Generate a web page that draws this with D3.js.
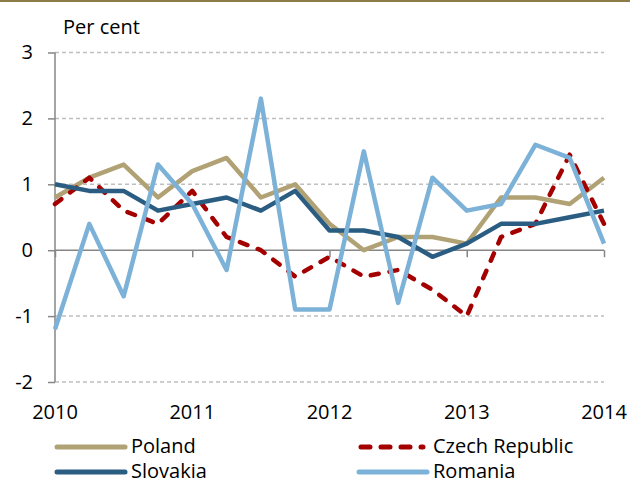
<!DOCTYPE html>
<html>
<head>
<meta charset="utf-8">
<script src="https://cdn.jsdelivr.net/npm/d3@7"></script>
<style>
  html, body { margin: 0; padding: 0; background: white; }
  svg { display: block; font-family: "Open Sans", Lato, sans-serif; }
</style>
</head>
<body>
<svg width="630" height="486"></svg>
<script>
// === Data

const QUARTERS = ['2010Q1', '2010Q2', '2010Q3', '2010Q4', '2011Q1', '2011Q2', '2011Q3', '2011Q4',
  '2012Q1', '2012Q2', '2012Q3', '2012Q4', '2013Q1', '2013Q2', '2013Q3', '2013Q4', '2014Q1'];
const YEAR_TICKS = ['2010Q1', '2011Q1', '2012Q1', '2013Q1', '2014Q1'];
const Y_TICKS = [-2, -1, 0, 1, 2, 3];
const POLAND = [0.8, 1.1, 1.3, 0.8, 1.2, 1.4, 0.8, 1.0, 0.4, 0.0, 0.2, 0.2, 0.1, 0.8, 0.8, 0.7, 1.1];
const CZECH = [0.7, 1.1, 0.6, 0.4, 0.9, 0.2, 0.0, -0.4, -0.1, -0.4, -0.3, -0.6, -1.0, 0.2, 0.4, 1.45, 0.4];
const SLOVAKIA = [1.0, 0.9, 0.9, 0.6, 0.7, 0.8, 0.6, 0.9, 0.3, 0.3, 0.2, -0.1, 0.1, 0.4, 0.4, 0.5, 0.6];
const ROMANIA = [-1.2, 0.4, -0.7, 1.3, 0.7, -0.3, 2.3, -0.9, -0.9, 1.5, -0.8, 1.1, 0.6, 0.7, 1.6, 1.4, 0.1];
const UNIT_LABEL = 'Per cent';


// === Config

const FONT = '"Open Sans", Lato, sans-serif';
const PLOT = { left: 55, right: 604, top: 52.5, bottom: 382 };
const COLORS = {
  poland: '#b1a275',
  czech: '#a50000',
  slovakia: '#2a5d81',
  romania: '#7db2d8',
  grid: '#bfbfbf',
  axis: '#868686',
  rule: '#8c7c48'
};
const LINE_WIDTH = 4.5;

const SERIES = [
  { name: 'Poland', values: POLAND, color: COLORS.poland, dash: null, legend: { x: 55, y: 447 } },
  { name: 'Czech Republic', values: CZECH, color: COLORS.czech, dash: '8,11', legend: { x: 357, y: 447 } },
  { name: 'Slovakia', values: SLOVAKIA, color: COLORS.slovakia, dash: null, legend: { x: 55, y: 472 } },
  { name: 'Romania', values: ROMANIA, color: COLORS.romania, dash: null, legend: { x: 357, y: 472 } }
];
// drawing order (last on top)
const DRAW_ORDER = ['Poland', 'Czech Republic', 'Slovakia', 'Romania'];


// === Main stuff

function main() {
  const svg = d3.select('svg');

  const x = d3.scalePoint()
    .domain(QUARTERS)
    .range([PLOT.left, PLOT.right]);
  const y = d3.scaleLinear()
    .domain([-2, 3])
    .range([PLOT.bottom, PLOT.top]);

  // top rule
  svg.append('line')
    .attr('x1', 0).attr('x2', 630)
    .attr('y1', 1).attr('y2', 1)
    .attr('stroke', COLORS.rule)
    .attr('stroke-width', 2);

  // unit label
  svg.append('text')
    .attr('x', 63)
    .attr('y', 34)
    .attr('font-size', 20)
    .attr('fill', '#000')
    .text(UNIT_LABEL);

  // gridlines (zero is the x axis)
  svg.append('g')
    .selectAll('line')
    .data(Y_TICKS.filter(d => d !== 0))
    .enter()
    .append('line')
    .attr('x1', PLOT.left).attr('x2', PLOT.right)
    .attr('y1', d => y(d)).attr('y2', d => y(d))
    .attr('stroke', COLORS.grid)
    .attr('stroke-width', 1.5)
    .attr('stroke-dasharray', '4,3');

  // y axis
  const yAxis = d3.axisLeft(y)
    .tickValues(Y_TICKS)
    .tickSize(7)
    .tickPadding(15)
    .tickFormat(d => String(d));
  const yAxisNode = svg.append('g')
    .attr('transform', `translate(${PLOT.left},0)`)
    .call(yAxis);
  yAxisNode.select('.domain')
    .attr('stroke', COLORS.axis)
    .attr('stroke-width', 1.5)
    .attr('d', `M0,${PLOT.top}V${PLOT.bottom}`);
  yAxisNode.selectAll('.tick line')
    .attr('stroke', COLORS.axis)
    .attr('stroke-width', 1.5);
  yAxisNode.selectAll('.tick text')
    .attr('font-size', 20)
    .attr('font-family', FONT)
    .attr('fill', '#000');

  // x axis at zero, with labels at the bottom
  const xAxis = d3.axisBottom(x)
    .tickValues(YEAR_TICKS)
    .tickSize(7)
    .tickFormat(() => '');
  const xAxisNode = svg.append('g')
    .attr('transform', `translate(0,${y(0)})`)
    .call(xAxis);
  xAxisNode.select('.domain')
    .attr('stroke', COLORS.axis)
    .attr('stroke-width', 1.5)
    .attr('d', `M${PLOT.left},0H${PLOT.right}`);
  xAxisNode.selectAll('.tick line')
    .attr('stroke', COLORS.axis)
    .attr('stroke-width', 1.5);

  svg.append('g')
    .selectAll('text')
    .data(YEAR_TICKS)
    .enter()
    .append('text')
    .attr('x', d => x(d))
    .attr('y', 419)
    .attr('text-anchor', 'middle')
    .attr('font-size', 20)
    .attr('fill', '#000')
    .text(d => d.substring(0, 4));

  // lines
  const line = d3.line()
    .x((d, i) => x(QUARTERS[i]))
    .y(d => y(d));

  const ordered = DRAW_ORDER.map(name => SERIES.find(s => s.name === name));
  svg.append('g')
    .selectAll('path')
    .data(ordered)
    .enter()
    .append('path')
    .attr('d', s => line(s.values))
    .attr('fill', 'none')
    .attr('stroke', s => s.color)
    .attr('stroke-width', LINE_WIDTH)
    .attr('stroke-linejoin', 'round')
    .attr('stroke-linecap', s => s.dash ? 'round' : 'butt')
    .attr('stroke-dasharray', s => s.dash);

  // legend
  const legend = svg.append('g')
    .selectAll('g')
    .data(SERIES)
    .enter()
    .append('g')
    .attr('transform', s => `translate(${s.legend.x},${s.legend.y})`);
  legend.append('line')
    .attr('x1', s => s.dash ? 4 : 2)
    .attr('x2', s => s.dash ? 66 : 70)
    .attr('y1', 0).attr('y2', 0)
    .attr('stroke', s => s.color)
    .attr('stroke-width', 5)
    .attr('stroke-linecap', 'round')
    .attr('stroke-dasharray', s => s.dash ? '9,11' : null);
  legend.append('text')
    .attr('x', 76)
    .attr('y', 6)
    .attr('font-size', 20)
    .attr('fill', '#000')
    .text(s => s.name);
}


// === Init

main();
</script>
</body>
</html>
